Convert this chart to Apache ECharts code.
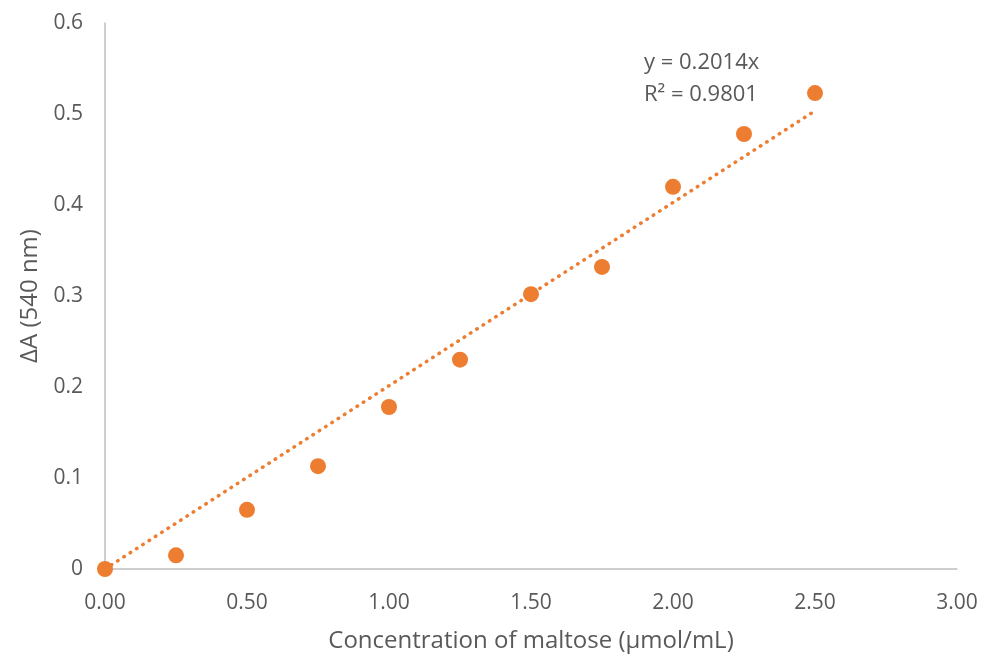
<!DOCTYPE html>
<html>
<head>
<meta charset="utf-8">
<script src="https://cdn.jsdelivr.net/npm/echarts@6/dist/echarts.min.js"></script>
<style>
  html, body { margin: 0; padding: 0; background: #fff; }
  #main { width: 984px; height: 657px; }
</style>
</head>
<body>
<div id="main"></div>
<script>
var concentration = [0, 0.25, 0.5, 0.75, 1.0, 1.25, 1.5, 1.75, 2.0, 2.25, 2.5];
var absorbance = [0, 0.015, 0.065, 0.113, 0.178, 0.23, 0.302, 0.332, 0.42, 0.478, 0.523];
var slope = 0.2014;
var rSquared = 0.9801;

var points = concentration.map(function (x, i) { return [x, absorbance[i]]; });
var xEnd = concentration[concentration.length - 1];
var trend = [[0, 0], [xEnd, slope * xEnd]];

var font = '"Open Sans", "Noto Sans", sans-serif';
var orange = '#ED7D31';

var myChart = echarts.init(document.getElementById('main'));
var option = {
    backgroundColor: '#fff',
    animation: false,
    grid: { left: 105, right: 27, top: 23, bottom: 88, outerBoundsMode: 'none' },
    xAxis: {
        type: 'value',
        min: 0, max: 3, interval: 0.5,
        name: 'Concentration of maltose (µmol/mL)',
        nameLocation: 'middle',
        nameGap: 60,
        nameTextStyle: { fontFamily: font, fontSize: 24, color: '#595959' },
        axisLine: { lineStyle: { color: '#bfbfbf', width: 1.5 } },
        axisTick: { show: false },
        splitLine: { show: false },
        axisLabel: {
            fontFamily: font, fontSize: 21, color: '#595959', margin: 24,
            formatter: function (v) { return v.toFixed(2); }
        }
    },
    yAxis: {
        type: 'value',
        min: 0, max: 0.6, interval: 0.1,
        name: 'ΔA (540 nm)',
        nameLocation: 'middle',
        nameGap: 58,
        nameTextStyle: { fontFamily: font, fontSize: 24, color: '#595959' },
        axisLine: { show: true, lineStyle: { color: '#bfbfbf', width: 1.5 } },
        axisTick: { show: false },
        splitLine: { show: false },
        axisLabel: {
            fontFamily: font, fontSize: 21, color: '#595959', margin: 22,
            formatter: function (v) { return v === 0 ? '0' : v.toFixed(1); }
        }
    },
    series: [
        {
            type: 'line',
            data: trend,
            symbol: 'none',
            z: 1,
            lineStyle: { color: orange, width: 3.5, type: [0.5, 7], cap: 'round' }
        },
        {
            type: 'scatter',
            data: points,
            symbolSize: 16,
            z: 2,
            itemStyle: { color: orange, opacity: 1 }
        }
    ],
    graphic: [
        {
            type: 'text', left: 644, top: 47,
            style: {
                text: 'y = ' + slope + 'x\nR² = ' + rSquared,
                font: '22px ' + font, fill: '#595959', lineHeight: 32
            }
        }
    ]
};
myChart.setOption(option);
</script>
</body>
</html>
